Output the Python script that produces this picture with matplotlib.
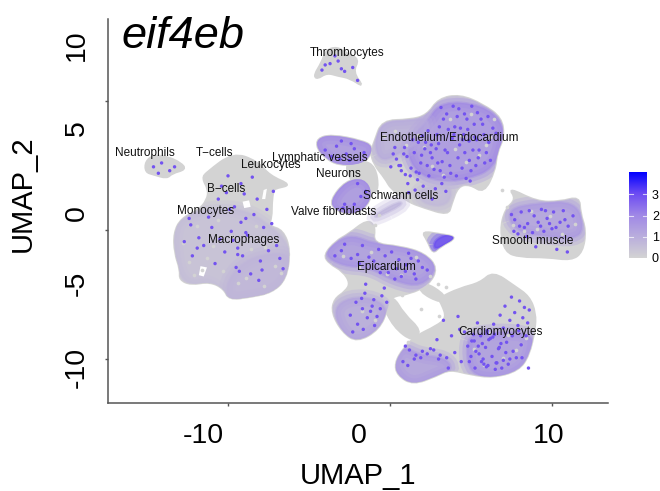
import numpy as np
import matplotlib
matplotlib.use('Agg')
import matplotlib.pyplot as plt
from matplotlib.colors import LinearSegmentedColormap, Normalize
from matplotlib.cm import ScalarMappable
from matplotlib.patches import PathPatch
from matplotlib.path import Path

plt.rcParams['font.family'] = ['Liberation Sans', 'DejaVu Sans']

gene = 'eif4eb'

# cluster outlines (UMAP units)
thrombo_x = [-4.7, -4.2, -3.95, -3.27, -2.65, -1.9, -2.3, -1.6, -2.47, -3.21, -3.89, -4.5]
thrombo_y = [12.0, 13.02, 13.95, 14.2, 13.7, 13.25, 12.25, 11.05, 11.78, 11.95, 12.2, 11.7]
neutro_x = [-15.1, -14.6, -13.77, -12.9, -12.6, -13.46, -13.77, -14.6, -15.1]
neutro_y = [5.3, 5.8, 5.7, 5.2, 4.7, 4.4, 4.0, 4.3, 4.5]
macro_x = [-11.3, -9.69, -8.21, -7.41, -6.1, -6.98, -7.2, -7.3, -7.3, -7.5, -6.6, -6.15, -6.4, -7.3,
           -8.64, -9.95, -10.25, -11.11, -12.3, -13.0, -12.95, -13.3, -13.35, -12.9, -11.8, -11.3, -11.2, -11.6]
macro_y = [4.5, 6.0, 5.35, 4.2, 3.5, 3.26, 3.10, 2.09, 1.01, 0.33, 0.0, -1.55, -3.8, -4.85,
           -5.2, -5.4, -4.55, -4.0, -4.25, -3.85, -3.10, -1.78, -0.23, 0.9, 1.55, 2.33, 3.10, 4.03]
lymph_x = [-4.5, -3.6, -1.75, -1.05, -1.3, -2.0, -3.21, -3.95, -4.5]
lymph_y = [7.1, 7.4, 6.95, 6.5, 5.55, 5.05, 5.05, 5.55, 6.3]
neuron_x = [-2.78, -1.63, -0.9, -0.7, -1.1, -2.16, -2.47]
neuron_y = [5.2, 5.4, 4.9, 3.2, 2.8, 3.4, 4.03]
schwann_x = [-3.7, -2.75, -1.6, -1.05, -1.55, -2.47, -3.4]
schwann_y = [2.3, 3.8, 4.05, 2.9, 1.6, 1.2, 1.55]
valve_x = [-0.95, -0.85, 0.6, 0.78]
valve_y = [0.9, 1.25, 2.25, 1.95]
endo_x = [-0.95, -0.5, 1.23, 2.28, 3.0, 4.32, 5.75, 6.9, 7.05, 6.6, 6.5, 5.8, 4.94, 4.2, 3.8, 3.6,
          2.04, 1.1, 0.05, -0.3, -1.0, -1.2]
endo_y = [6.9, 8.5, 8.55, 8.9, 10.2, 10.5, 9.75, 8.7, 7.21, 5.97, 4.65, 2.85, 3.55, 3.4, 2.0, 1.15,
          1.75, 2.2, 3.2, 4.0, 5.1, 6.05]
smooth_x = [7.3, 9.07, 10.49, 11.7, 11.75, 12.1, 11.9, 11.2, 9.69, 8.02, 7.1, 6.8, 7.1, 7.8]
smooth_y = [3.3, 2.2, 2.2, 2.6, 1.32, 0, -1.7, -2.35, -2.1, -2.1, -1.7, 0, 1.6, 2.4]
spot_x = [1.95, 3.09, 4.2, 3.09, 2.65, 2.3]
spot_y = [-0.1, -0.3, -0.55, -1.3, -1.85, -0.8]
epi_x = [-4.1, -3.35, -2.55, -1.42, -0.9, -1.05, 0.62, 2.15, 2.95, 2.4, 1.23, 0.05, -0.1, -0.65, -2.04, -2.95,
         -3.6, -3.45, -2.75, -2.45, -2.9, -3.75]
epi_y = [-1.94, -0.85, -0.3, 0.8, 0.3, -1.05, -1.25, -1.8, -2.95, -4.25, -4.95, -5.15, -6.0, -7.7, -8.7, -7.9,
         -6.43, -5.35, -4.75, -4.11, -3.2, -2.6]
cardio_x = [2.96, 4.32, 5.56, 6.36, 7.7, 8.6, 9.0, 8.95, 8.6, 7.95, 6.36, 4.94, 3.70, 2.90, 1.42, 0.45, 0.3,
            0.8, 1.6, 2.85, 3.5, 3.2]
cardio_y = [-5.3, -4.5, -4.1, -3.2, -4.35, -5.15, -6.43, -7.75, -9.7, -10.9, -11.45, -11.2, -10.8, -11.3,
            -12.0, -11.25, -10.31, -9.2, -8.2, -7.45, -6.82, -5.75]
# thin grey bridges round the white hole between epicardium and cardiomyocytes
bridge1_x = [-0.5, 0.2, 1.45, 1.95, 0.85, 0.2]
bridge1_y = [-5.6, -7.5, -8.7, -7.8, -6.5, -5.1]
bridge2_x = [2.05, 3.5, 3.2, 1.75]
bridge2_y = [-3.95, -5.1, -5.7, -4.75]

grey_shapes = {'thrombo': (thrombo_x, thrombo_y), 'neutro': (neutro_x, neutro_y), 'macro': (macro_x, macro_y),
               'lymph': (lymph_x, lymph_y), 'neuron': (neuron_x, neuron_y), 'schwann': (schwann_x, schwann_y),
               'endo': (endo_x, endo_y), 'smooth': (smooth_x, smooth_y), 'spot': (spot_x, spot_y),
               'epi': (epi_x, epi_y), 'cardio': (cardio_x, cardio_y), 'bridge1': (bridge1_x, bridge1_y),
               'bridge2': (bridge2_x, bridge2_y)}

# areas where the mean expression sits above zero
endo_hot_x = [2.2, 3.2, 5.7, 6.9, 7.0, 6.4, 4.94, 3.09, 1.6, 1.0, 1.6]
endo_hot_y = [8.3, 10.0, 9.7, 8.4, 6.98, 4.8, 4.0, 3.7, 4.5, 6.2, 7.5]
endo_left_x = [-1.0, -0.5, 1.23, 2.4, 2.4, 0.9, -0.5]
endo_left_y = [6.6, 8.4, 8.5, 8.7, 7.2, 6.2, 5.2]
endo_low_x = [1.6, 3.9, 3.6, 2.0]
endo_low_y = [3.2, 3.6, 1.8, 2.0]
smooth_hot_x = [7.2, 9.07, 11.5, 12.0, 11.4, 9.69, 7.7]
smooth_hot_y = [1.6, 2.1, 2.2, 0.1, -0.7, -0.5, -0.1]
spot_hot_x = [2.75, 3.52, 4.1, 3.27, 2.7]
spot_hot_y = [-0.8, -0.3, -0.6, -1.25, -1.5]
epi_hot_x = [-4.1, -3.3, -2.28, -1.05, 0.62, 2.15, 2.95, 1.95, 0.31, -1.23, -2.9]
epi_hot_y = [-1.94, -0.85, -0.4, -1.05, -1.25, -1.8, -2.95, -4.4, -4.0, -2.9, -2.8]
epi_low_x = [-3.5, -2.5, -0.93, -0.1, -0.65, -2.04, -3.0]
epi_low_y = [-6.1, -5.2, -5.3, -6.2, -7.7, -8.7, -7.9]
cardio_left_x = [0.2, 0.8, 1.85, 3.40, 3.9, 2.90, 1.42, 0.45]
cardio_left_y = [-10.3, -9.0, -9.7, -9.9, -10.8, -11.3, -12.1, -11.25]
cardio_right_x = [5.0, 8.9, 8.7, 8.0, 6.36, 4.95, 4.7]
cardio_right_y = [-7.9, -7.9, -9.7, -11.0, -11.5, -11.1, -9.30]
macro_body_x = [-13.4, -12.9, -11.0, -9.0, -7.4, -6.0, -6.3, -7.3, -8.64, -9.95, -11.1, -12.3, -13.1]
macro_body_y = [-0.3, 1.0, 1.7, 1.6, 0.4, -1.5, -3.9, -4.9, -5.3, -5.5, -4.0, -4.3, -3.4]
macro_low_x = [-10.1, -9.0, -7.5, -6.1, -6.3, -7.3, -8.64, -10.0]
macro_low_y = [-4.0, -2.4, -1.8, -1.9, -3.9, -4.9, -5.3, -5.5]

hot_shapes = [('lymph', lymph_x, lymph_y, 1.9), ('schwann', schwann_x, schwann_y, 2.0), ('valve', valve_x, valve_y, 0.9),
              ('endo', endo_hot_x, endo_hot_y, 2.0), ('endo', endo_left_x, endo_left_y, 1.1), ('endo', endo_low_x, endo_low_y, 0.7),
              ('smooth', smooth_hot_x, smooth_hot_y, 1.6), ('spot', spot_hot_x, spot_hot_y, 3.1),
              ('epi', epi_hot_x, epi_hot_y, 1.8), ('epi', epi_low_x, epi_low_y, 1.3),
              ('cardio', cardio_left_x, cardio_left_y, 1.6), ('cardio', cardio_right_x, cardio_right_y, 1.8),
              ('macro', macro_body_x, macro_body_y, 0.6), ('macro', macro_low_x, macro_low_y, 0.8)]

# single bright cells, read one by one, cluster by cluster
endo_dots_x = [0.4, 0.9, 1.3, 1.5, 1.9, 2.2, 2.6, 2.9, 3.1, 3.4, 3.7, 4.0, 4.3, 4.6, 4.9, 5.2, 5.5, 5.8, 6.1, 0.7, 1.1, 1.7,
               2.4, 2.8, 3.3, 3.9, 4.5, 5.0, 5.4, 3.0, 3.6, 4.2, 4.8, 5.3, 2.0, 2.5, 1.4, 0.2, 4.1, 4.7, 3.5, 3.2, 2.3, 1.8,
               0.05, 0.55, 1.05, 1.62, 2.15, 2.72, 3.22, 3.85, 4.35, 4.88, 5.35, 5.95, 6.35, 0.3, 0.85, 1.25, 1.95, 2.55, 3.05,
               3.55, 4.15, 4.62, 5.12, 5.72, 6.2, 3.75, 4.45, 5.05, 5.62, 3.15, 2.05, 2.6, 1.15, 4.95, 5.45, 3.95, 4.25, 4.75,
               6.55, 6.05, 2.95, 2.35, 1.55, 0.65, 3.45, 4.55, 5.25, 5.85, 1.75, 2.85, 3.35, 0.95]
endo_dots_y = [5.5, 6.4, 4.8, 6.0, 5.2, 6.8, 5.6, 7.4, 4.6, 6.2, 5.0, 8.0, 6.6, 9.0, 5.4, 8.2, 6.2, 7.4, 6.8, 4.6, 3.6, 3.9,
               4.2, 3.2, 8.6, 9.6, 7.0, 4.6, 9.1, 6.7, 7.8, 5.6, 7.8, 5.0, 7.3, 6.0, 7.0, 5.9, 4.2, 4.0, 9.0, 3.6, 5.0, 4.4,
               4.9, 5.0, 5.7, 4.5, 6.3, 4.7, 5.3, 7.1, 7.9, 6.9, 7.0, 6.0, 7.9, 6.4, 5.9, 4.2, 5.8, 6.6, 8.0,
               6.0, 8.8, 6.0, 6.2, 8.2, 5.4, 4.4, 4.8, 9.6, 8.6, 9.5, 3.4, 2.4, 2.9, 3.8, 5.6, 7.4, 9.4, 8.6,
               7.5, 8.8, 5.2, 7.7, 3.1, 5.0, 3.0, 7.4, 7.2, 5.2, 6.8, 6.3, 4.1, 4.3]
cardio_dots_x = [8.3, 8.0, 7.7, 7.4, 7.9, 8.5, 7.1, 6.8, 6.4, 6.0, 5.6, 5.2, 4.8, 5.0, 5.5, 5.9, 6.3, 6.7, 7.2, 7.6, 8.1, 6.1,
                 6.6, 7.0, 5.4, 4.6, 4.2, 3.8, 3.3, 2.9, 2.5, 2.0, 1.6, 1.2, 3.5, 4.0, 5.8, 6.5, 7.3, 7.8, 4.4, 3.0,
                 8.6, 8.2, 7.5, 7.0, 6.2, 5.7, 5.15, 5.3, 5.75, 6.05, 6.45, 6.9, 7.4, 7.95, 8.4, 5.05, 5.45, 5.95, 6.35, 6.85,
                 7.15, 7.55, 8.15, 8.55, 6.55, 5.65, 5.25, 0.8, 1.1, 1.5, 1.9, 2.3, 2.7, 3.1, 3.6, 0.95, 4.9, 4.3, 6.0, 6.75]
cardio_dots_y = [-6.0, -5.5, -6.4, -7.0, -7.4, -7.2, -5.9, -6.6, -7.3, -7.8, -8.2, -8.6, -9.0, -9.8, -9.6, -9.1, -9.8, -9.2, -8.7,
                 -9.4, -8.9, -8.5, -10.3, -10.1, -7.2, -7.9, -6.7, -8.2, -7.0, -8.5, -9.2, -9.4, -9.7, -9.3, -9.9, -9.5, -10.4,
                 -10.8, -10.4, -9.9, -10.2, -10.0,
                 -6.2, -6.8, -5.2, -7.6, -8.4, -8.8, -8.1, -9.4, -10.0, -10.5, -8.1, -10.7, -10.0, -7.8, -8.2, -8.6,
                 -9.0, -10.6, -8.3, -8.8, -9.5, -8.2, -9.9, -10.7, -10.3, -10.2, -10.7, -10.2, -10.5, -10.0, -9.9, -9.6, -9.3,
                 -9.7, -10.7, -9.0, -10.2, -7.7, -8.0, -9.1]
epi_dots_x = [-3.0, -2.4, -1.7, -1.0, -0.3, 0.4, 1.0, 1.5, 2.0, 0.7, 1.3, -0.6, -1.5, -2.1, -1.7, -1.1, -0.8, -1.4, -2.0, -0.5,
              -3.4, -2.8, -2.0, -1.3, -0.7, 0.1, 0.55, 1.15, 1.75, 2.3, 0.95, 0.3, 1.6, -0.1, -0.35, -1.9, -1.55, -1.0, -2.45, -1.2,
              -0.2, -0.95, -1.65, -2.3, -0.6, -1.75]
epi_dots_y = [-1.6, -2.2, -1.2, -2.4, -2.0, -3.0, -2.7, -3.4, -2.9, -3.6, -2.2, -3.3, -4.2, -5.6, -6.1, -5.9, -6.7, -6.8, -7.3, -5.1,
              -2.0, -1.1, -1.9, -2.1, -1.5, -1.7, -2.3, -1.8, -2.4, -3.1, -3.2, -3.8, -3.8, -3.3, -4.5, -2.6, -4.9, -5.4, -6.6, -6.3,
              -5.6, -7.4, -7.7, -7.9, -6.1, -5.3]
macro_dots_x = [-9.6, -9.2, -8.8, -9.0, -10.4, -10.0, -9.4, -8.4, -7.8, -7.2, -8.0, -9.7, -9.5, -9.1, -12.3, -11.8, -11.2, -10.6,
                -8.6, -7.0, -9.9, -9.3, -10.2, -8.9, -12.7, -12.2, -11.5, -11.0, -12.4, -10.8, -8.2, -7.6, -8.5, -7.3, -6.8, -9.2,
                -9.8, -10.5, -11.9, -9.4, -8.9, -8.1, -10.1, -7.9, -7.5, -6.6]
macro_dots_y = [1.8, 0.6, -0.4, 2.8, 3.4, 4.2, -1.4, 1.2, 0.2, 3.0, -2.4, -0.8, -2.9, -2.0, 0.4, -0.6, 1.0, 2.4, -3.4, -1.2,
                1.6, -3.2, -1.7, -0.2, -0.9, -2.0, -1.2, 0.2, 0.9, -2.6, 2.4, 1.6, 4.1, 0.5, -2.2, 3.6,
                -0.1, -0.7, -1.4, -1.9, 0.9, -3.9, 2.9, -3.1, -1.6, -3.0]
smooth_dots_x = [7.7, 8.1, 8.5, 8.9, 9.3, 9.7, 10.1, 10.5, 8.3, 8.8, 9.5, 10.0, 10.8, 9.0, 7.9, 10.3,
                 7.5, 8.0, 8.6, 9.15, 9.6, 10.25, 10.7, 11.0, 11.3, 8.45, 9.85, 10.95, 7.65, 9.35]
smooth_dots_y = [0.8, 1.4, 0.5, 1.1, 0.3, 0.9, 1.4, 0.6, 0.2, -0.2, -0.1, 0.1, 0.8, -1.3, -0.3, -1.5,
                 1.2, 0.3, 1.5, 0.6, 1.5, 0.2, 1.5, 0.3, 1.1, -0.5, 0.5, -1.7, -0.1, 1.6]
small_dots_x = [-4.2, -3.7, -3.2, -2.8, -2.3, -2.0, -3.4, -4.0, -3.0, -14.6, -14.1, -13.6, -14.3, -13.3, -4.0, -3.3, -2.7, -2.2, -1.6,
                -3.6, -3.0, -2.4, -3.1, -2.5, -2.0, -1.8, -2.8, -2.2, -2.9, -1.5]
small_dots_y = [12.4, 12.9, 13.1, 12.3, 12.6, 11.6, 13.5, 12.8, 12.5, 4.9, 5.2, 4.6, 4.4, 4.9, 6.2, 6.5, 5.9, 6.3, 6.0,
                5.7, 6.9, 6.7, 5.5, 5.4, 3.6, 2.6, 2.0, 2.0, 1.7, 3.0]
bright_groups = [(endo_dots_x, endo_dots_y), (cardio_dots_x, cardio_dots_y), (epi_dots_x, epi_dots_y),
                 (macro_dots_x, macro_dots_y), (smooth_dots_x, smooth_dots_y), (small_dots_x, small_dots_y)]
bright_level = 2.9

# zero-expression cells showing through the purple, and grey strays
fleck_x = [-12.4, -11.9, -11.6, -10.9, -10.3, -9.8, -8.9, -8.3, -7.7, -7.1, -6.7, -12.8, -10.6, -9.4, -8.6, -7.8, -11.3, -12.1,
           -0.4, 0.3, 1.0, 1.7, 2.6, 3.3, 4.0, 4.7, 5.5, 6.2, 2.1, 3.7, 4.4, 5.0, 5.9, 6.4,
           7.6, 8.3, 9.1, 9.9, 10.6, 11.4, 8.7, 10.2, -2.9, -1.9, -1.2, -0.2, 0.7, 1.6, -1.7, -0.9,
           5.2, 6.1, 7.0, 7.8, 8.4, 5.8, 7.3,
           0.0, 0.45, 1.1, 2.5, 2.95, 0.75, -0.9, -0.65, 1.9, 3.4, 3.65, 3.0, 3.45, 6.9, 7.25]
fleck_y = [-2.5, 0.3, -3.1, -1.2, -3.2, -0.5, -3.7, 0.3, -1.3, -2.8, -3.3, -1.0, 0.8, -4.1, -1.5, -4.3, -2.2, -3.5,
           7.3, 7.7, 6.6, 7.4, 5.0, 4.3, 6.3, 5.3, 5.8, 7.2, 6.4, 8.6, 7.4, 9.0, 6.6, 8.6,
           0.4, -0.1, 0.1, 1.1, -0.3, 0.5, 1.5, -0.8, -2.0, -2.9, -1.7, -3.4, -3.5, -2.1, -6.3, -7.0,
           -9.2, -8.0, -9.9, -9.3, -8.4, -10.5, -8.1,
           -5.9, -7.5, -8.7, -3.6, -4.2, -5.0, 0.4, 1.2, -6.1, -7.4, -7.8, -6.7, -4.4, 3.1, 1.8]

# white gaps inside the macrophage cluster
gap_x = [[-9.1, -8.7, -8.6, -9.0], [-11.7, -11.3, -11.5, -11.8], [-7.8, -7.6, -7.7, -7.9]]
gap_y = [[2.2, 2.3, 1.8, 1.7], [-2.8, -2.9, -3.6, -3.5], [3.1, 3.2, 2.4, 2.4]]

label_names = ['Thrombocytes', 'Neutrophils', 'T\u2212cells', 'Leukocytes', 'Lymphatic vessels', 'Neurons',
               'B\u2212cells', 'Monocytes', 'Macrophages', 'Schwann cells', 'Valve fibroblasts',
               'Endothelium/Endocardium', 'Smooth muscle', 'Epicardium', 'Cardiomyocytes']
label_x = [-2.65, -15.12, -10.86, -7.35, -4.32, -3.21, -10.12, -11.36, -9.01, 0.68, -3.46, 3.64, 8.83, -0.19, 6.85]
label_y = [13.72, 5.97, 5.97, 5.04, 5.58, 4.34, 3.18, 1.47, -0.78, 2.64, 1.40, 7.13, -0.85, -2.87, -7.91]

# the marks on the axes and the big labels do not line up in the picture
mark_x = [-10, 0, 10]
mark_y = [-10, 0, 10]
xlabel_pos = [-11.54, -1.91, 9.81]
xlabel_txt = ['-10', '0', '10']
ylabel_pos = [-10.62, -4.11, 1.32, 7.91, 14.34]
ylabel_txt = ['-10', '-5', '0', '5', '10']

cbar_ticks = [0, 1, 2, 3]
cmap = LinearSegmentedColormap.from_list('fp', [(0, '#D3D3D3'), (0.5, '#9F87E6'), (0.75, '#6C4BF2'), (1, '#0000FF')])
norm = Normalize(0, 4.05)
grey = cmap(0.0)


# rounded outline, the listed points act as curve controls
def blob(sx, sy):
    pts = np.column_stack([sx, sy])
    mids = (pts + np.roll(pts, -1, axis=0)) / 2
    verts = [mids[-1]]
    codes = [Path.MOVETO]
    for p, m in zip(pts, mids):
        verts += [p, m]
        codes += [Path.CURVE3, Path.CURVE3]
    return Path(verts, codes)


fig = plt.figure(figsize=(6.6, 4.91), dpi=100)
ax = fig.add_axes([107.5 / 660, 88.5 / 491, 500.5 / 660, 383.5 / 491])

parents = {}
for key, (sx, sy) in grey_shapes.items():
    parents[key] = ax.add_patch(PathPatch(blob(sx, sy), fc=grey, ec=grey, lw=1.5, zorder=1))

# stacked strokes give the purple areas a soft edge
for key, sx, sy, lev in hot_shapes:
    col = cmap(norm(lev))
    for lw, a in [(12, 0.25), (7, 0.3), (2, 0.4)]:
        p = ax.add_patch(PathPatch(blob(sx, sy), fc=col, ec=col, lw=lw, alpha=a, zorder=2))
        if key in parents:
            p.set_clip_path(parents[key])

for sx, sy in zip(gap_x, gap_y):
    ax.fill(sx, sy, color='white', lw=0, zorder=2.5)

ax.scatter(fleck_x, fleck_y, s=7, color=grey, lw=0, zorder=2.7)
for sx, sy in bright_groups:
    ax.scatter(sx, sy, s=6, c=np.full(len(sx), bright_level), cmap=cmap, norm=norm, lw=0, zorder=3)

for name, lx, ly in zip(label_names, label_x, label_y):
    ax.text(lx, ly, name, fontsize=8.5, ha='center', va='center', color='#111111', zorder=5)

ax.set_xlim(-17.44, 13.46)
ax.set_ylim(-13.37, 16.36)
for side in ['top', 'right']:
    ax.spines[side].set_visible(False)
for side in ['left', 'bottom']:
    ax.spines[side].set_color('#555555')
    ax.spines[side].set_linewidth(1.1)

ax.set_xticks(xlabel_pos, xlabel_txt, fontsize=20.5)
ax.set_yticks(ylabel_pos, ylabel_txt, fontsize=20.5, rotation=90, va='center')
ax.set_xticks(mark_x, minor=True)
ax.set_yticks(mark_y, minor=True)
ax.tick_params(which='major', length=0)
ax.tick_params(axis='x', which='major', pad=15)
ax.tick_params(axis='y', which='major', pad=13)
ax.tick_params(which='minor', length=2.5, width=1, color='#555555')

ax.set_xlabel('UMAP_1', fontsize=21)
ax.xaxis.set_label_coords((358 - 107.5) / 500.5, -60 / 383.5)
ax.set_ylabel('UMAP_2', fontsize=21)
ax.yaxis.set_label_coords(-71 / 500.5, (402.5 - 194) / 383.5)
ax.set_title(gene, loc='left', x=13.5 / 500.5, y=354.5 / 383.5, fontsize=32.5, style='italic', va='baseline', pad=0)

cax = fig.add_axes([629 / 660, (491 - 258) / 491, 18 / 660, 86 / 491])
cb = fig.colorbar(ScalarMappable(norm=norm, cmap=cmap), cax=cax, ticks=cbar_ticks)
cb.outline.set_visible(False)
cb.ax.tick_params(length=0, labelsize=9, pad=3.5)
for t in cbar_ticks:
    cb.ax.plot([0, 0.2], [t, t], color='white', lw=0.8, alpha=0.7, transform=cb.ax.get_yaxis_transform())
    cb.ax.plot([0.8, 1], [t, t], color='white', lw=0.8, alpha=0.7, transform=cb.ax.get_yaxis_transform())

fig.savefig('out.png', dpi=100)
